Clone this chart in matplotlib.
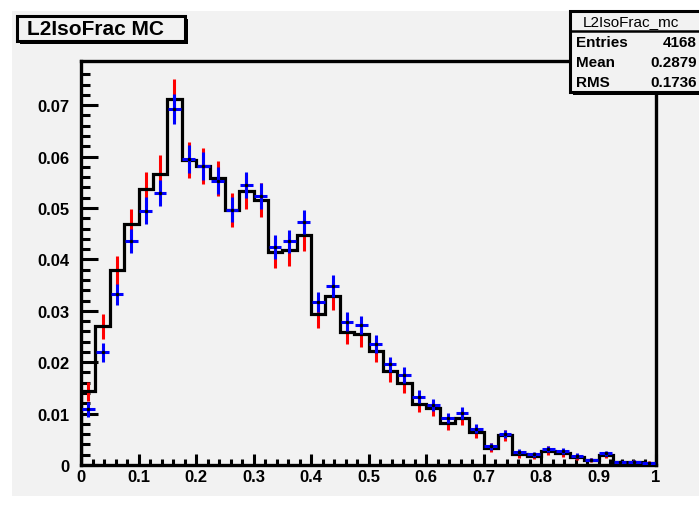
import numpy as np
import matplotlib.pyplot as plt
from matplotlib.patches import Rectangle

# ROOT-style histogram: L2IsoFrac MC

W, H = 699, 506
GRAY = "#f2f2f2"
FONT = "Liberation Sans"

# 40 bins of 0.025 on [0, 1]
edges = np.linspace(0, 1, 41)

# black histogram (bin contents)
hist_vals = [0.0143, 0.0270, 0.0379, 0.0469, 0.0536, 0.0567, 0.0712, 0.0594,
             0.0582, 0.0558, 0.0497, 0.0533, 0.0515, 0.0414, 0.0418, 0.0448,
             0.0294, 0.0329, 0.0259, 0.0254, 0.0222, 0.0182, 0.0160, 0.0119,
             0.0110, 0.0082, 0.0091, 0.0065, 0.0034, 0.0058, 0.0021, 0.0017,
             0.0028, 0.0023, 0.0015, 0.0009, 0.0019, 0.0005, 0.0006, 0.0004]
# red error bars on the black histogram
hist_err = [0.0019, 0.0024, 0.0028, 0.0030, 0.0035, 0.0036, 0.0039, 0.0035,
            0.0035, 0.0034, 0.0033, 0.0034, 0.0033, 0.0030, 0.0030, 0.0031,
            0.0027, 0.0027, 0.0024, 0.0024, 0.0022, 0.0020, 0.0019, 0.0016,
            0.0015, 0.0013, 0.0014, 0.0012, 0.0009, 0.0011, 0.0007, 0.0006,
            0.0008, 0.0007, 0.0006, 0.0004, 0.0006, 0.0003, 0.0004, 0.0003]

# blue points with errors
pts_vals = [0.0108, 0.0219, 0.0332, 0.0436, 0.0495, 0.0529, 0.0693, 0.0595,
            0.0582, 0.0553, 0.0497, 0.0545, 0.0524, 0.0424, 0.0435, 0.0473,
            0.0317, 0.0348, 0.0279, 0.0272, 0.0235, 0.0196, 0.0175, 0.0133,
            0.0117, 0.0091, 0.0101, 0.0071, 0.0036, 0.0060, 0.0026, 0.0021,
            0.0031, 0.0028, 0.0018, 0.0010, 0.0023, 0.0005, 0.0006, 0.0004]
pts_err = [0.0015, 0.0018, 0.0021, 0.0024, 0.0026, 0.0026, 0.0029, 0.0027,
           0.0027, 0.0026, 0.0025, 0.0026, 0.0025, 0.0023, 0.0023, 0.0024,
           0.0020, 0.0021, 0.0018, 0.0018, 0.0017, 0.0015, 0.0015, 0.0013,
           0.0012, 0.0010, 0.0011, 0.0009, 0.0007, 0.0008, 0.0005, 0.0005,
           0.0006, 0.0006, 0.0005, 0.0003, 0.0005, 0.0002, 0.0003, 0.0002]

xticks = [0, 0.1, 0.2, 0.3, 0.4, 0.5, 0.6, 0.7, 0.8, 0.9, 1.0]
xtick_labels = ["0", "0.1", "0.2", "0.3", "0.4", "0.5", "0.6", "0.7", "0.8", "0.9", "1"]
yticks = [0, 0.01, 0.02, 0.03, 0.04, 0.05, 0.06, 0.07]
ytick_labels = ["0", "0.01", "0.02", "0.03", "0.04", "0.05", "0.06", "0.07"]

title = "L2IsoFrac MC"
stats_name = "L2IsoFrac_mc"
stats_rows = [("Entries", "4168"), ("Mean", "0.2879"), ("RMS", "0.1736")]


def fx(px):
    return px / W


def fy(py):
    return 1 - py / H


centers = 0.5 * (edges[:-1] + edges[1:])

fig = plt.figure(figsize=(W / 100, H / 100), dpi=100, facecolor="white")
fig.patches.append(Rectangle((fx(12), fy(497)), fx(W - 12), (497 - 12) / H,
                             transform=fig.transFigure, facecolor=GRAY,
                             edgecolor="none", zorder=-10))

ax_left, ax_right, ax_top, ax_bot = 81, 656, 62, 466
ax = fig.add_axes([fx(ax_left), fy(ax_bot), (ax_right - ax_left) / W, (ax_bot - ax_top) / H])
ax.set_facecolor(GRAY)

ax.errorbar(centers, hist_vals, yerr=hist_err, fmt="none", ecolor="red",
            elinewidth=2.2, capsize=0, zorder=2)
ax.stairs(hist_vals, edges, color="black", linewidth=2.3, zorder=3)
ax.errorbar(centers, pts_vals, xerr=0.011, yerr=pts_err, fmt="o", color="black",
            markersize=1.5, ecolor="blue", elinewidth=2.2, capsize=0, zorder=4)

ax.set_xlim(0, 1)
ax.set_ylim(0, (ax_bot - ax_top) / 5140)

ax.set_xticks(xticks)
ax.set_xticklabels(xtick_labels)
ax.set_xticks(np.arange(0, 1.001, 0.02), minor=True)
ax.set_yticks(yticks)
ax.set_yticklabels(ytick_labels)
ax.set_yticks(np.arange(0, 0.078, 0.002), minor=True)

ax.tick_params(axis="both", which="both", direction="in", width=2.2, color="black",
               top=False, right=False)
ax.tick_params(axis="x", which="major", length=8, pad=3)
ax.tick_params(axis="x", which="minor", length=4)
ax.tick_params(axis="y", which="major", length=12, pad=8)
ax.tick_params(axis="y", which="minor", length=6.5)
for lab in ax.get_xticklabels() + ax.get_yticklabels():
    lab.set_fontfamily(FONT)
    lab.set_fontweight("bold")
    lab.set_fontsize(12)

for sp in ax.spines.values():
    sp.set_linewidth(2.4)

# title box with shadow
tx0, ty0, tx1, ty1 = 17, 17, 185, 42
fig.patches.append(Rectangle((fx(tx0 + 3), fy(ty1 + 3)), (tx1 - tx0) / W, (ty1 - ty0) / H,
                             transform=fig.transFigure, facecolor="black",
                             edgecolor="none", zorder=5))
fig.patches.append(Rectangle((fx(tx0), fy(ty1)), (tx1 - tx0) / W, (ty1 - ty0) / H,
                             transform=fig.transFigure, facecolor=GRAY,
                             edgecolor="black", linewidth=2.2, zorder=6))
fig.text(fx(27), fy(29.5), title, fontfamily=FONT, fontweight="bold", fontsize=15,
         va="center", ha="left", zorder=7)

# stats box (runs off the right edge, as in the original)
sx0, sy0, sx1, sy1 = 570, 12, 720, 93
fig.patches.append(Rectangle((fx(sx0 + 3), fy(sy1 + 3)), (sx1 - sx0) / W, (sy1 - sy0) / H,
                             transform=fig.transFigure, facecolor="black",
                             edgecolor="none", zorder=5))
fig.patches.append(Rectangle((fx(sx0), fy(sy1)), (sx1 - sx0) / W, (sy1 - sy0) / H,
                             transform=fig.transFigure, facecolor=GRAY,
                             edgecolor="black", linewidth=2.2, zorder=6))
fig.add_artist(plt.Line2D([fx(sx0), fx(sx1)], [fy(32), fy(32)], transform=fig.transFigure,
                          color="black", linewidth=1.8, zorder=7))
fig.text(fx(583), fy(22), stats_name, fontfamily=FONT, fontsize=11, va="center",
         ha="left", zorder=8)
row_y = [43, 63, 83]
for (name, val), yy in zip(stats_rows, row_y):
    fig.text(fx(576), fy(yy), name, fontfamily=FONT, fontweight="bold", fontsize=11,
             va="center", ha="left", zorder=8)
    fig.text(fx(697), fy(yy), val, fontfamily=FONT, fontweight="bold", fontsize=11,
             va="center", ha="right", zorder=8)

fig.savefig("out.png", dpi=100)
